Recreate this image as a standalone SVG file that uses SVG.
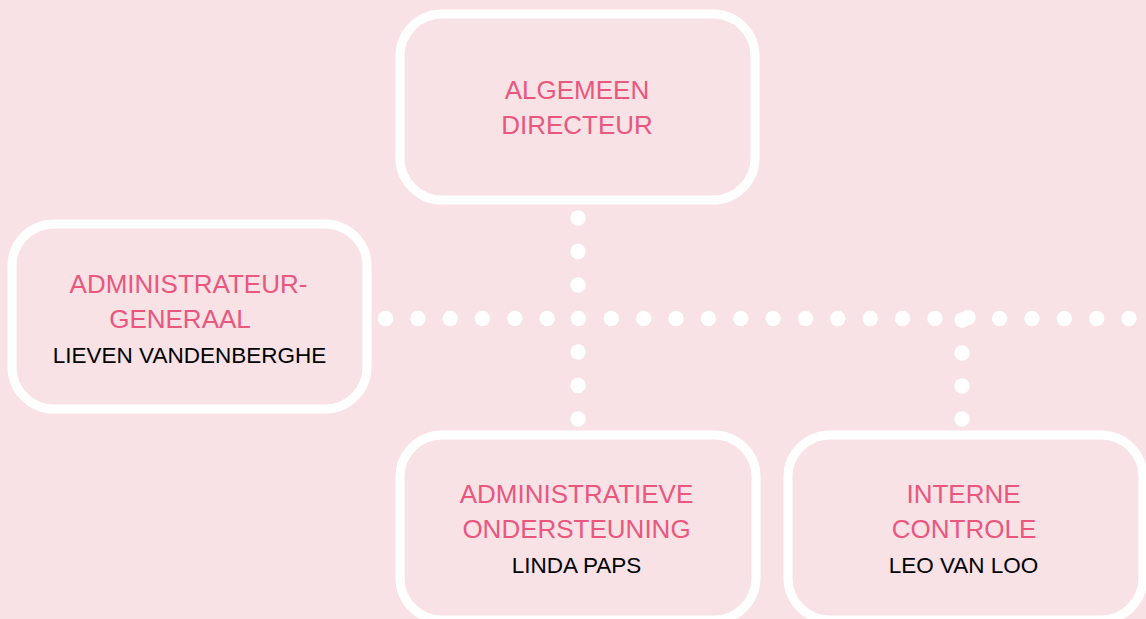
<svg xmlns="http://www.w3.org/2000/svg" width="1146" height="619" viewBox="0 0 1146 619">
<defs>
<style>
.box{fill:#F8E2E6;stroke:#FFFFFF;stroke-width:9}
.t{font-family:"Liberation Sans",Arial,sans-serif;text-anchor:middle}
.p{fill:#E9577F;font-size:26px}
.b{fill:#000000;font-size:22.5px}
.d{fill:#FFFFFF}
</style>
</defs>
<rect x="0" y="0" width="1146" height="619" fill="#F8E2E6"/>
<g id="connectors">
<g class="d">
<circle cx="578" cy="218" r="7.7"/>
<circle cx="578" cy="251.5" r="7.7"/>
<circle cx="578" cy="285" r="7.7"/>
<circle cx="578" cy="352" r="7.7"/>
<circle cx="578" cy="385.5" r="7.7"/>
<circle cx="578" cy="419" r="7.7"/>
<circle cx="962" cy="320" r="7.7"/>
<circle cx="962" cy="353" r="7.7"/>
<circle cx="962" cy="386" r="7.7"/>
<circle cx="962" cy="419" r="7.7"/>
<circle cx="385.5" cy="318.5" r="7.7"/>
<circle cx="417.8" cy="318.5" r="7.7"/>
<circle cx="450.2" cy="318.5" r="7.7"/>
<circle cx="482.5" cy="318.5" r="7.7"/>
<circle cx="514.9" cy="318.5" r="7.7"/>
<circle cx="547.2" cy="318.5" r="7.7"/>
<circle cx="578.5" cy="318.5" r="7.7"/>
<circle cx="611.4" cy="318.5" r="7.7"/>
<circle cx="643.7" cy="318.5" r="7.7"/>
<circle cx="676.1" cy="318.5" r="7.7"/>
<circle cx="708.4" cy="318.5" r="7.7"/>
<circle cx="740.8" cy="318.5" r="7.7"/>
<circle cx="773.1" cy="318.5" r="7.7"/>
<circle cx="805.5" cy="318.5" r="7.7"/>
<circle cx="837.8" cy="318.5" r="7.7"/>
<circle cx="870.2" cy="318.5" r="7.7"/>
<circle cx="902.5" cy="318.5" r="7.7"/>
<circle cx="934.9" cy="318.5" r="7.7"/>
<circle cx="968" cy="317.5" r="7.7"/>
<circle cx="999.6" cy="318.5" r="7.7"/>
<circle cx="1032" cy="318.5" r="7.7"/>
<circle cx="1064.3" cy="318.5" r="7.7"/>
<circle cx="1096.7" cy="318.5" r="7.7"/>
<circle cx="1129" cy="318.5" r="7.7"/>
</g>
</g>
<g id="node-algemeen-directeur">
<rect class="box" x="400" y="14" width="355" height="186" rx="42" ry="42"/>
<text class="t p" x="577" y="99">ALGEMEEN</text>
<text class="t p" x="577" y="134">DIRECTEUR</text>
</g>
<g id="node-administrateur-generaal">
<rect class="box" x="12" y="224" width="355" height="185" rx="42" ry="42"/>
<text class="t p" x="188.5" y="293">ADMINISTRATEUR-</text>
<text class="t p" x="180" y="328">GENERAAL</text>
<text class="t b" x="189.5" y="363">LIEVEN VANDENBERGHE</text>
</g>
<g id="node-administratieve-ondersteuning">
<rect class="box" x="400" y="435" width="356" height="185" rx="42" ry="42"/>
<text class="t p" x="576.5" y="503">ADMINISTRATIEVE</text>
<text class="t p" x="576.5" y="538">ONDERSTEUNING</text>
<text class="t b" x="576.5" y="573">LINDA PAPS</text>
</g>
<g id="node-interne-controle">
<rect class="box" x="788" y="435" width="355" height="185" rx="42" ry="42"/>
<text class="t p" x="963.5" y="503">INTERNE</text>
<text class="t p" x="964" y="538">CONTROLE</text>
<text class="t b" x="963.5" y="573">LEO VAN LOO</text>
</g>
</svg>
